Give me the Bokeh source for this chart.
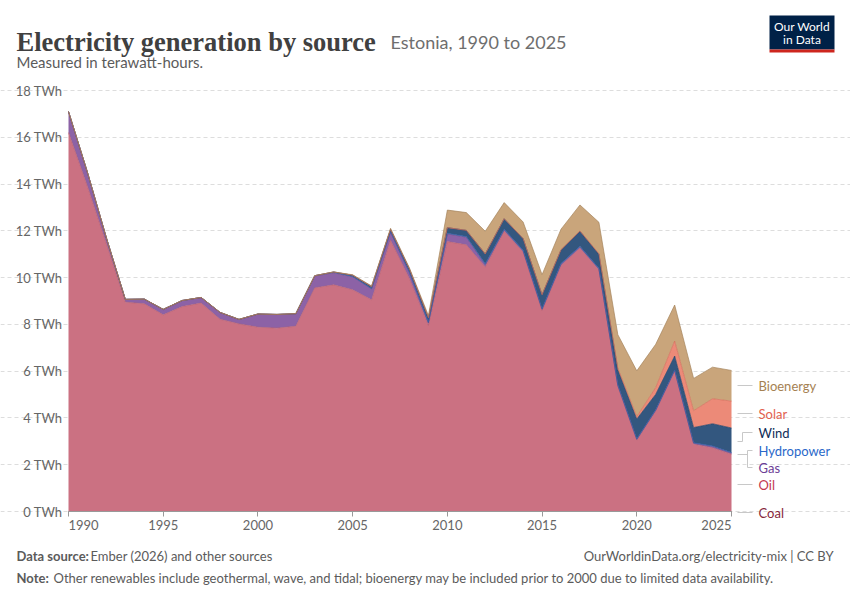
import numpy as np
from bokeh.plotting import figure
from bokeh.models import Range1d, FixedTicker
from bokeh.core.properties import value
from bokeh.embed import file_html
from bokeh.resources import INLINE

# ---------------- data (TWh) ----------------
years = list(range(1990, 2026))
coal = [0.0, 0.0, 0.0, 0.0, 0.0, 0.0, 0.0, 0.0, 0.0, 0.0,
        0.0, 0.0, 0.0, 0.0, 0.0, 0.0, 0.0, 0.0, 0.0, 0.0,
        0.0, 0.0, 0.0, 0.0, 0.0, 0.0, 0.0, 0.0, 0.0, 0.0,
        0.0, 0.0, 0.0, 0.0, 0.0, 0.0]
oil = [16.2, 13.9, 11.45, 8.95, 8.88, 8.41, 8.76, 8.91, 8.22, 8.02,
       7.88, 7.84, 7.92, 9.56, 9.69, 9.48, 9.05, 11.6, 9.95, 7.96,
       11.54, 11.4, 10.45, 11.98, 11.09, 8.59, 10.52, 11.26, 10.33, 5.35,
       3.05, 4.3, 6.0, 2.88, 2.72, 2.45]
gas = [0.9, 0.6, 0.25, 0.12, 0.2, 0.23, 0.26, 0.24, 0.29, 0.19,
       0.56, 0.58, 0.53, 0.51, 0.52, 0.55, 0.47, 0.35, 0.25, 0.1,
       0.33, 0.33, 0.1, 0.06, 0.05, 0.05, 0.05, 0.05, 0.05, 0.04,
       0.03, 0.03, 0.03, 0.04, 0.06, 0.05]
hydro = [0.001, 0.001, 0.001, 0.001, 0.002, 0.002, 0.002, 0.002, 0.003, 0.004,
         0.005, 0.007, 0.009, 0.013, 0.022, 0.022, 0.014, 0.021, 0.028, 0.032,
         0.027, 0.03, 0.042, 0.027, 0.027, 0.027, 0.035, 0.026, 0.015, 0.02,
         0.024, 0.02, 0.018, 0.02, 0.022, 0.02]
wind = [0.0, 0.0, 0.0, 0.0, 0.0, 0.0, 0.0, 0.0, 0.0, 0.0,
        0.0, 0.0, 0.0, 0.0, 0.01, 0.05, 0.08, 0.09, 0.13, 0.19,
        0.24, 0.26, 0.42, 0.45, 0.5, 0.6, 0.58, 0.65, 0.6, 0.65,
        0.85, 0.66, 0.6, 0.65, 0.95, 1.05]
solar = [0.0, 0.0, 0.0, 0.0, 0.0, 0.0, 0.0, 0.0, 0.0, 0.0,
         0.0, 0.0, 0.0, 0.0, 0.0, 0.0, 0.0, 0.0, 0.0, 0.0,
         0.0, 0.0, 0.0, 0.0, 0.0, 0.0, 0.005, 0.01, 0.03, 0.07,
         0.1, 0.29, 0.64, 0.72, 1.07, 1.15]
bioenergy = [0.0, 0.0, 0.0, 0.0, 0.0, 0.0, 0.0, 0.0, 0.0, 0.0,
             0.0, 0.0, 0.0, 0.0, 0.0, 0.02, 0.03, 0.05, 0.05, 0.1,
             0.75, 0.76, 0.97, 0.69, 0.71, 0.86, 0.88, 1.11, 1.34, 1.43,
             1.96, 1.85, 1.54, 1.38, 1.35, 1.31]

series_names = ["Coal", "Oil", "Gas", "Hydropower", "Wind", "Solar", "Bioenergy"]
series_values = [coal, oil, gas, hydro, wind, solar, bioenergy]
y_ticks = [0, 2, 4, 6, 8, 10, 12, 14, 16, 18]
x_ticks = [1990, 1995, 2000, 2005, 2010, 2015, 2020, 2025]

area_colors = ["#8A3B44", "#CB7182", "#8C62A6", "#4C7BC8", "#33577F", "#EC8A78", "#C9A57B"]
edge_colors = ["#6e2a33", "#b9606f", "#6a4a85", "#2f5fa8", "#1f3f66", "#d46a58", "#a5845c"]
text_colors = ["#86283A", "#C3384F", "#6B3D96", "#2A68C9", "#0E2D58", "#E2614F", "#A58152"]

TITLE = "Electricity generation by source"
SUBTITLE = "Estonia, 1990 to 2025"
UNITS = "Measured in terawatt-hours."
SOURCE_LABEL = "Data source:"
SOURCE = "Ember (2026) and other sources"
URL = "OurWorldinData.org/electricity-mix | CC BY"
NOTE_LABEL = "Note:"
NOTE = ("Other renewables include geothermal, wave, and tidal; bioenergy may be "
        "included prior to 2000 due to limited data availability.")

# ---------------- layout helpers (page pixel -> data) ----------------
W, H = 850, 600
PX_PER_YEAR = 663.0 / 35.0
PX_PER_TWH = 421.0 / 18.0


def X(px):
    return 1990 + (px - 68) / PX_PER_YEAR


def Y(py):
    return (511 - py) / PX_PER_TWH


p = figure(width=W, height=H, output_backend="svg", toolbar_location=None, title=None,
           x_range=Range1d(X(0), X(W)), y_range=Range1d(Y(H), Y(0)),
           min_border_left=0, min_border_right=0, min_border_top=0, min_border_bottom=0)
p.outline_line_color = None
p.background_fill_color = "white"
p.border_fill_color = "white"
p.xgrid.visible = False

# y axis (drawn at the left edge of the data, 1990)
p.yaxis.fixed_location = 1990
p.yaxis.ticker = FixedTicker(ticks=y_ticks)
p.yaxis.major_label_overrides = {t: f"{t} TWh" for t in y_ticks}
p.yaxis.axis_line_color = None
p.yaxis.major_tick_line_color = None
p.yaxis.minor_tick_line_color = None
p.yaxis.major_tick_out = 0
p.yaxis.major_tick_in = 0
p.yaxis.major_label_standoff = 6
p.yaxis.major_label_text_font = "Lato"
p.yaxis.major_label_text_font_size = "13px"
p.yaxis.major_label_text_color = "#666666"

# x axis (drawn at 0 TWh)
p.xaxis.fixed_location = 0
p.xaxis.ticker = FixedTicker(ticks=x_ticks)
p.xaxis.major_label_overrides = {1990: "", 2025: ""}
p.xaxis.axis_line_color = None
p.xaxis.major_tick_line_color = "#999999"
p.xaxis.minor_tick_line_color = None
p.xaxis.major_tick_out = 5
p.xaxis.major_tick_in = 0
p.xaxis.major_label_standoff = 3
p.xaxis.major_label_text_font = "Lato"
p.xaxis.major_label_text_font_size = "13px"
p.xaxis.major_label_text_color = "#666666"

# dashed horizontal grid, limited to the data span
p.ygrid.bounds = (1990, X(735))
p.ygrid.grid_line_color = "#dddddd"
p.ygrid.grid_line_dash = "4 3"
p.ygrid.grid_line_width = 1

# stacked areas
cum = np.zeros(len(years))
bounds = []
for vals in series_values:
    lower = cum.copy()
    cum = cum + np.array(vals)
    bounds.append((lower, cum.copy()))
for i, (lower, upper) in enumerate(bounds):
    p.varea(x=years, y1=lower, y2=upper, fill_color=area_colors[i], fill_alpha=1.0)
for i, (lower, upper) in enumerate(bounds):
    p.line(x=years, y=upper, line_color=edge_colors[i], line_width=0.7)

# baseline
p.segment(x0=[1990], y0=[0], x1=[2025], y1=[0], line_color="#999999", line_width=1)

# edge tick labels (first/last aligned inward)
p.text(x=[1990], y=[Y(524)], text=["1990"], text_align="left", text_baseline="middle",
       text_font=value("Lato"), text_font_size="13px", text_color="#666666")
p.text(x=[2025], y=[Y(524)], text=["2025"], text_align="right", text_baseline="middle",
       text_font=value("Lato"), text_font_size="13px", text_color="#666666")

# legend connectors
conn_xs = [
    [X(737), X(752)],
    [X(737), X(752)],
    [X(737), X(742), X(742), X(752)],
    [X(737), X(747)],
    [X(752), X(747), X(747), X(752)],
    [X(737), X(752)],
    [X(737), X(752)],
]
conn_ys = [
    [Y(385), Y(385)],
    [Y(413), Y(413)],
    [Y(441), Y(441), Y(432), Y(432)],
    [Y(454), Y(454)],
    [Y(450), Y(450), Y(467), Y(467)],
    [Y(484), Y(484)],
    [Y(512), Y(512)],
]
p.multi_line(xs=conn_xs, ys=conn_ys, line_color="#c8c8c8", line_width=1)

legend_y = {"Bioenergy": 385, "Solar": 413, "Wind": 432, "Hydropower": 450,
            "Gas": 467, "Oil": 484, "Coal": 512}
p.text(x=[X(758)] * len(series_names), y=[Y(legend_y[n]) for n in series_names],
       text=series_names, text_color=text_colors,
       text_baseline="middle", text_font=value("Lato"), text_font_size="13px")

# ---------------- header ----------------
p.text(x=[X(16)], y=[Y(41)], text=[TITLE], text_baseline="alphabetic",
       text_font=value("Liberation Serif"), text_font_style="bold",
       text_font_size="26.5px", text_color="#404040")
p.text(x=[X(390)], y=[Y(41)], text=[SUBTITLE], text_baseline="alphabetic",
       text_font=value("Lato"), text_font_size="18px", text_color="#6e6e6e")
p.text(x=[X(16)], y=[Y(61)], text=[UNITS], text_baseline="middle",
       text_font=value("Lato"), text_font_size="15px", text_color="#5b5b5b")
p.quad(left=[X(769)], right=[X(834)], top=[Y(15)], bottom=[Y(49)],
       fill_color="#002147", line_color=None)
p.quad(left=[X(769)], right=[X(834)], top=[Y(49)], bottom=[Y(52)],
       fill_color="#CE261E", line_color=None)
p.text(x=[X(801.5), X(801.5)], y=[Y(26), Y(39)], text=["Our World", "in Data"],
       text_align="center", text_baseline="middle", text_font=value("Lato"),
       text_font_size="12px", text_color="white")

# ---------------- footer ----------------
p.text(x=[X(16), X(16)], y=[Y(555), Y(577)], text=[SOURCE_LABEL, NOTE_LABEL],
       text_baseline="middle", text_font=value("Lato"), text_font_style="bold",
       text_font_size="13px", text_color="#5b5b5b")
p.text(x=[X(90), X(53)], y=[Y(555), Y(577)], text=[SOURCE, NOTE], text_baseline="middle",
       text_font=value("Lato"), text_font_size="13px", text_color="#5b5b5b")
p.text(x=[X(833)], y=[Y(555)], text=[URL], text_align="right", text_baseline="middle",
       text_font=value("Lato"), text_font_size="13px", text_color="#5b5b5b")

open("out.html", "w").write(file_html(p, INLINE))
